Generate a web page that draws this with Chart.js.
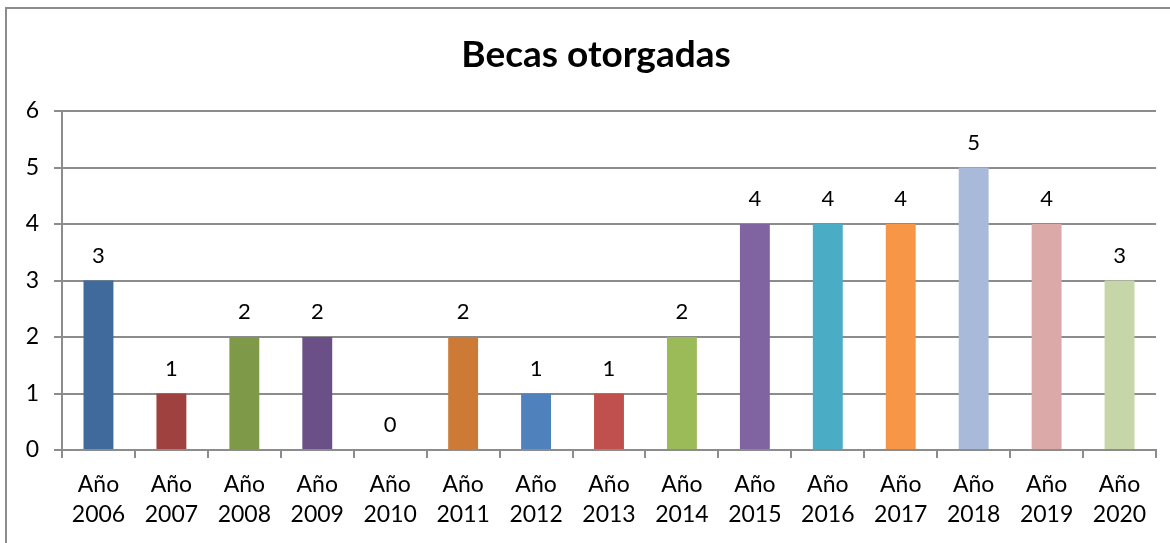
<!DOCTYPE html>
<html>
<head>
<meta charset="utf-8">
<script src="https://cdn.jsdelivr.net/npm/chart.js@4/dist/chart.umd.min.js"></script>
<style>
  html, body { margin: 0; padding: 0; background: #fff; overflow: hidden; }
  .frame { position: absolute; left: 5px; top: 7px; width: 1300px; height: 700px; border: 2px solid #8c8c8c; }
  #myChart { position: absolute; left: 0; top: 0; }
</style>
</head>
<body>
<div class="frame"></div>
<canvas id="myChart" width="1170" height="543"></canvas>
<script>
const categories = ["2006", "2007", "2008", "2009", "2010", "2011", "2012", "2013", "2014", "2015", "2016", "2017", "2018", "2019", "2020"];
const becas = [3, 1, 2, 2, 0, 2, 1, 1, 2, 4, 4, 4, 5, 4, 3];
const barColors = [
    "#3f6a9b", "#9e413f", "#7e9a48", "#6a5086", "#cc7a36",
    "#cc7a36", "#4f81bd", "#c0504d", "#9bbb59", "#8064a2",
    "#4bacc6", "#f79646", "#a9b9d9", "#dba9a8", "#c6d6a8"
];
const yTicks = [0, 1, 2, 3, 4, 5, 6];
const chartTitle = "Becas otorgadas";

const FONT = "Lato, 'Open Sans', sans-serif";

// value labels above every bar + title centred like the original
const valueLabels = {
    id: "valueLabels",
    afterDatasetsDraw(chart) {
        const ctx = chart.ctx;
        const meta = chart.getDatasetMeta(0);
        ctx.save();
        ctx.font = "22px " + FONT;
        ctx.fillStyle = "#000";
        ctx.textAlign = "center";
        ctx.textBaseline = "bottom";
        meta.data.forEach((bar, i) => {
            ctx.fillText(String(becas[i]), bar.x, bar.y - 14);
        });
        ctx.font = "bold 37px " + FONT;
        ctx.textBaseline = "middle";
        ctx.fillText(chartTitle, 596, 55);
        ctx.restore();
    }
};

const ctx = document.getElementById("myChart");
const myChart = new Chart(ctx, {
    type: "bar",
    data: {
        labels: categories.map(y => ["Año", y]),
        datasets: [
            {
                label: chartTitle,
                data: becas,
                backgroundColor: barColors,
                borderWidth: 0,
                categoryPercentage: 1.0,
                barPercentage: 0.41
            }
        ]
    },
    options: {
        responsive: false,
        animation: false,
        layout: { padding: { left: 0, right: 14, top: 111, bottom: 0 } },
        plugins: {
            legend: { display: false },
            tooltip: { enabled: false },
            title: { display: false }
        },
        scales: {
            x: {
                grid: {
                    offset: true,
                    drawOnChartArea: false,
                    drawTicks: true,
                    tickLength: 8,
                    color: "#8c8c8c",
                    lineWidth: 2
                },
                border: { color: "#8c8c8c", width: 2 },
                ticks: {
                    color: "#000",
                    font: { family: FONT, size: 23, lineHeight: 1.3 },
                    padding: 12,
                    maxRotation: 0,
                    autoSkip: false
                },
                afterFit(scale) { scale.height = 93; }
            },
            y: {
                min: 0,
                max: 6,
                afterBuildTicks(scale) { scale.ticks = yTicks.map(v => ({ value: v })); },
                grid: {
                    color: "#8c8c8c",
                    lineWidth: 2,
                    tickLength: 8
                },
                border: { color: "#8c8c8c", width: 2 },
                ticks: {
                    color: "#000",
                    font: { family: FONT, size: 23 },
                    padding: 15
                },
                afterFit(scale) { scale.width = 62; }
            }
        }
    },
    plugins: [valueLabels]
});
</script>
</body>
</html>
